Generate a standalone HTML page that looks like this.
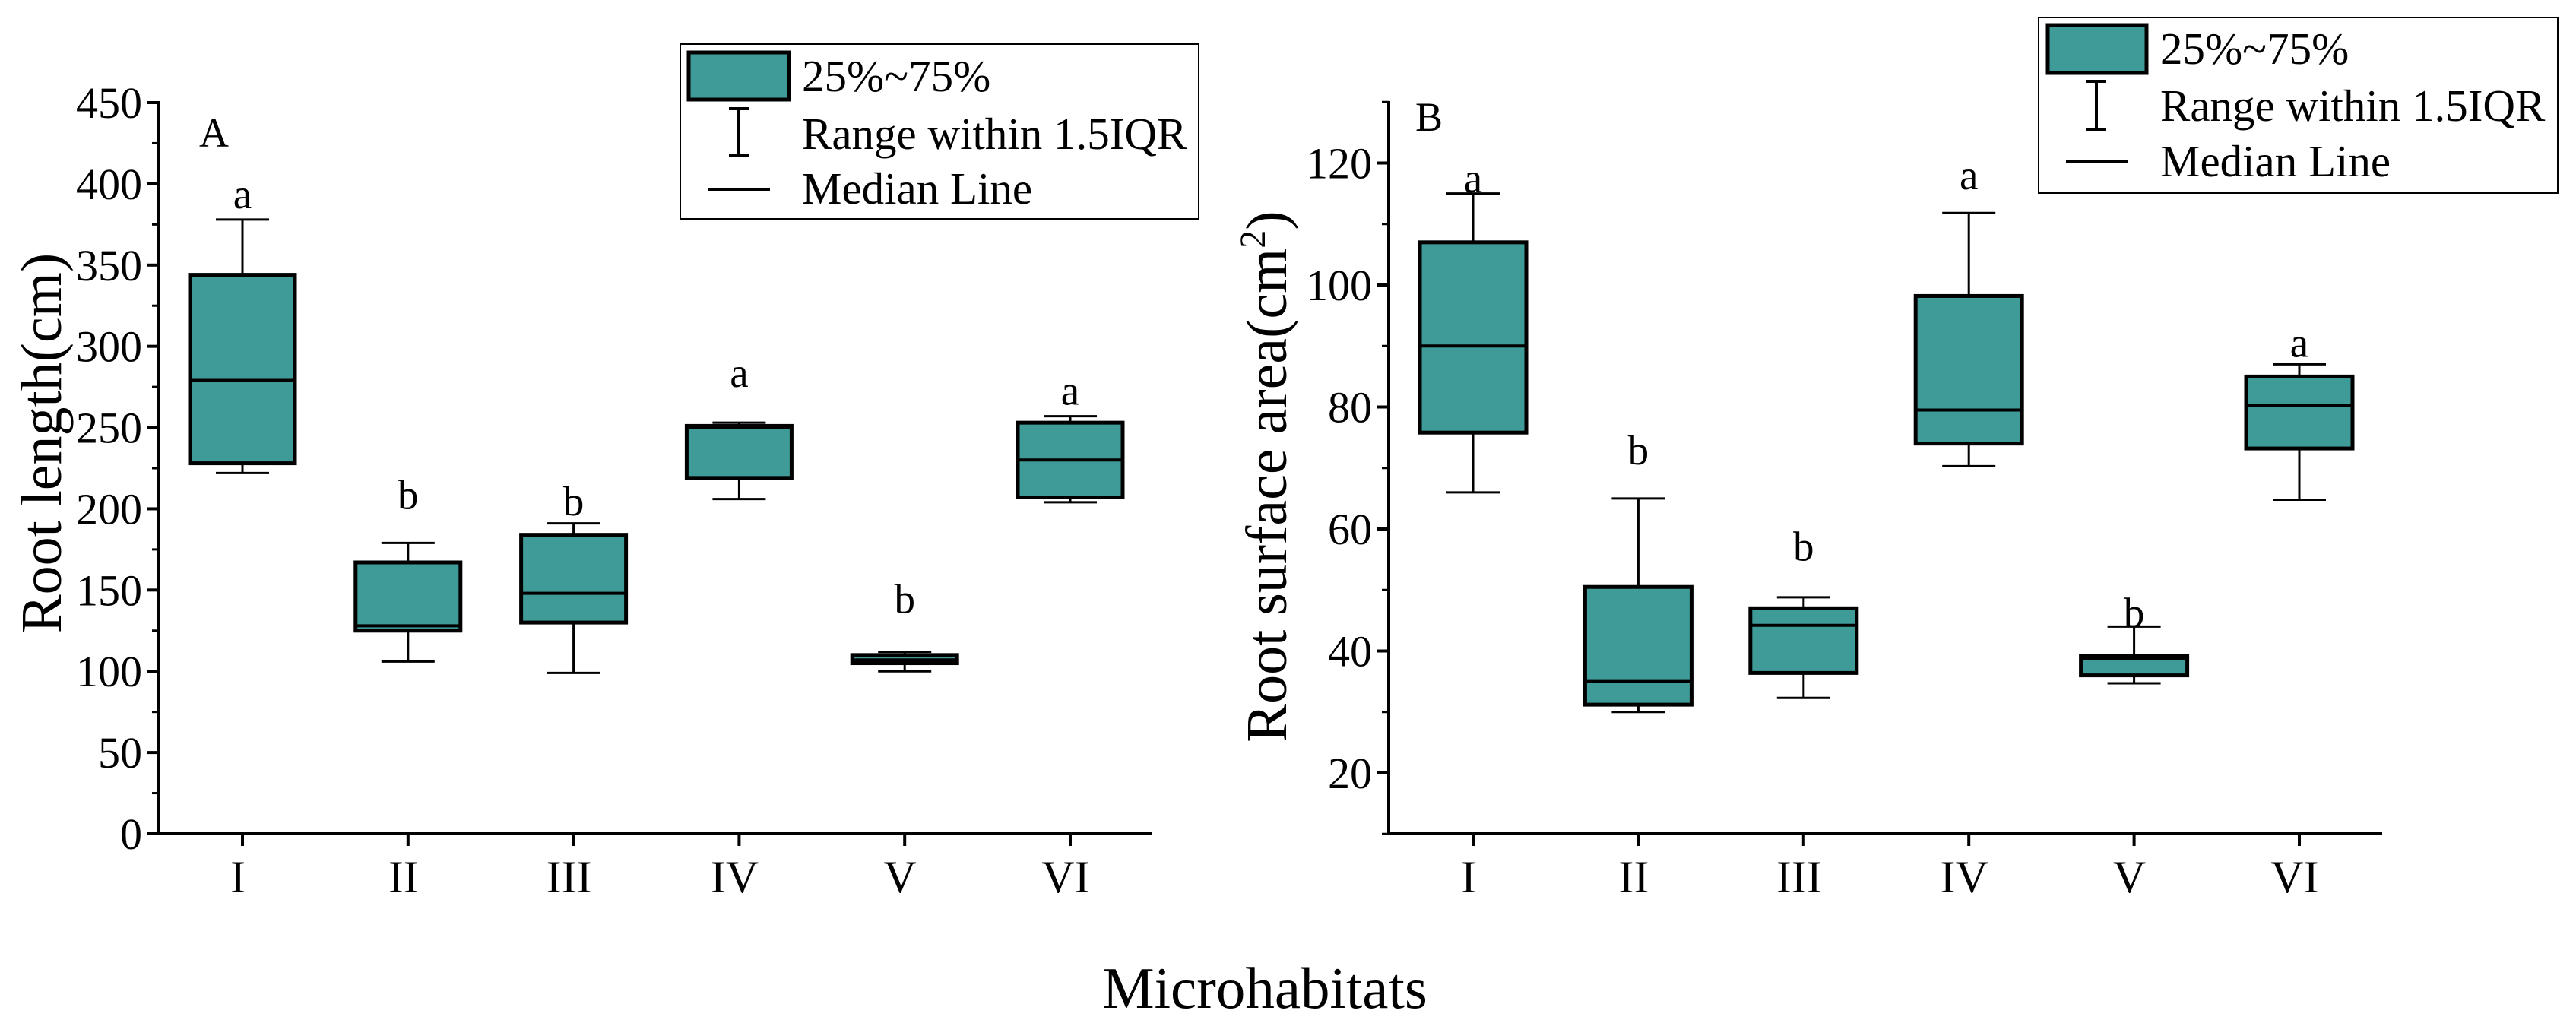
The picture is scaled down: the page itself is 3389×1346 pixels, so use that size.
<!DOCTYPE html>
<html><head><meta charset="utf-8"><style>
html,body{margin:0;padding:0;background:#fff}
svg{display:block}
text{font-family:"Liberation Serif",serif;fill:#000}
</style></head><body>
<svg id="chart" width="3389" height="1346" viewBox="0 0 3389 1346" xmlns="http://www.w3.org/2000/svg">
<text x="1664" y="1326" font-size="77" text-anchor="middle">Microhabitats</text>
</svg>
<script>
const categories = ["I","II","III","IV","V","VI"];
// Panel A: root length (cm)
const lenWhiskerLow  = [222,106,99,206,100,204];
const lenQ1          = [228,125,130,219,105,207];
const lenMedian      = [279,128,148,250,107,230];
const lenQ3          = [344,167,184,251,110,253];
const lenWhiskerHigh = [378,179,191,253,112,257];
const lenLetters     = ["a","b","b","a","b","a"];
const lenLetterPos   = [385,200,196,275,136,264];
const lenTicks       = [0,50,100,150,200,250,300,350,400,450];
// Panel B: root surface area (cm2)
const areaWhiskerLow  = [66,30,32.3,70.3,34.7,64.8];
const areaQ1          = [75.8,31.2,36.4,74,36,73.2];
const areaMedian      = [90,35,44.2,79.5,38.8,80.3];
const areaQ3          = [107,50.5,47,98.2,39.2,85];
const areaWhiskerHigh = [115,65,48.8,111.8,44,87];
const areaLetters     = ["a","b","b","a","b","a"];
const areaLetterPos   = [115.2,70.6,54.8,115.7,44,88.2];
const areaTicks       = [20,40,60,80,100,120];

const NS="http://www.w3.org/2000/svg";
const svg=document.getElementById('chart');
function mk(tag,attrs,parent){const e=document.createElementNS(NS,tag);for(const k in attrs)e.setAttribute(k,attrs[k]);(parent||svg).appendChild(e);return e;}
const FILL="#3f9b98";

function panel(cfg){
  const g=mk('g',{});
  
  
  const y=v=>cfg.y0+(v-cfg.vmin)*(cfg.y1-cfg.y0)/(cfg.vmax-cfg.vmin);
  const x=i=>cfg.xFirst+i*cfg.xStep;
  const ya=mk('line',{x1:cfg.axL,x2:cfg.axL,y1:cfg.axTop,y2:cfg.axBottom+2,stroke:'#000','stroke-width':4},g);
  
  
  const xa=mk('line',{x1:cfg.axL-2,x2:cfg.axR,y1:cfg.axBottom,y2:cfg.axBottom,stroke:'#000','stroke-width':4},g);
  
  
  cfg.ticks.forEach((t,i)=>{
    const yy=y(t);
    mk('line',{x1:cfg.axL-16,x2:cfg.axL,y1:yy,y2:yy,stroke:'#000','stroke-width':4},g);
    if(i<cfg.ticks.length-1||cfg.minorTop){
      const ym=y(t+cfg.tickStep/2);
      if(ym>=cfg.axTop-1) mk('line',{x1:cfg.axL-9,x2:cfg.axL,y1:ym,y2:ym,stroke:'#000','stroke-width':3},g);
    }
    const tx=mk('text',{x:cfg.axL-22,y:yy+20,'font-size':58,'text-anchor':'end'},g);
    tx.textContent=t;
    
    
  });
  if(cfg.minorBottom){const ym=y(cfg.ticks[0]-cfg.tickStep/2); mk('line',{x1:cfg.axL-9,x2:cfg.axL,y1:ym,y2:ym,stroke:'#000','stroke-width':3},g);}
  categories.forEach((c,i)=>{
    const xx=x(i);
    mk('line',{x1:xx,x2:xx,y1:cfg.axBottom,y2:cfg.axBottom+16,stroke:'#000','stroke-width':4},g);
    const t=mk('text',{x:xx-6,y:1174,'font-size':60,'text-anchor':'middle'},g);
    t.textContent=c;
    
    
    const hw=cfg.boxW/2, cw=cfg.capW/2;
    const bg=mk('g',{},g);
    
    
    mk('line',{x1:xx,x2:xx,y1:y(cfg.lo[i]),y2:y(cfg.q1[i]),stroke:'#000','stroke-width':3},bg);
    mk('line',{x1:xx,x2:xx,y1:y(cfg.hi[i]),y2:y(cfg.q3[i]),stroke:'#000','stroke-width':3},bg);
    mk('line',{x1:xx-cw,x2:xx+cw,y1:y(cfg.lo[i]),y2:y(cfg.lo[i]),stroke:'#000','stroke-width':3},bg);
    mk('line',{x1:xx-cw,x2:xx+cw,y1:y(cfg.hi[i]),y2:y(cfg.hi[i]),stroke:'#000','stroke-width':3},bg);
    mk('rect',{x:xx-hw,y:y(cfg.q3[i]),width:cfg.boxW,height:Math.max(1,y(cfg.q1[i])-y(cfg.q3[i])),fill:FILL,stroke:'#000','stroke-width':5},bg);
    mk('line',{x1:xx-hw,x2:xx+hw,y1:y(cfg.med[i]),y2:y(cfg.med[i]),stroke:'#000','stroke-width':4},bg);
    const lt=mk('text',{x:xx,y:y(cfg.letPos[i]),'font-size':55,'text-anchor':'middle'},g);
    lt.textContent=cfg.letters[i];
    
    
  });
  const pl=mk('text',{x:cfg.plX,y:cfg.plY,'font-size':54},g);
  pl.textContent=cfg.plText;
  
  
  const yt=mk('text',{x:cfg.ytX,y:cfg.ytY,'font-size':76,'text-anchor':'middle',transform:`rotate(-90 ${cfg.ytX} ${cfg.ytY})`},g);
  yt.innerHTML=cfg.ytText;
  
  
  const L=cfg.leg;
  const lg=mk('g',{},g);
  
  
  mk('rect',{x:L.x,y:L.y,width:L.w,height:L.h,fill:'#fff',stroke:'#000','stroke-width':2},lg);
  mk('rect',{x:L.sx,y:L.sy,width:L.sw,height:L.sh,fill:FILL,stroke:'#000','stroke-width':5},lg);
  mk('line',{x1:L.wx,x2:L.wx,y1:L.wy1,y2:L.wy2,stroke:'#000','stroke-width':4},lg);
  mk('line',{x1:L.wx-13,x2:L.wx+13,y1:L.wy1,y2:L.wy1,stroke:'#000','stroke-width':4},lg);
  mk('line',{x1:L.wx-13,x2:L.wx+13,y1:L.wy2,y2:L.wy2,stroke:'#000','stroke-width':4},lg);
  mk('line',{x1:L.mx1,x2:L.mx2,y1:L.my,y2:L.my,stroke:'#000','stroke-width':4},lg);
  [["25%~75%",L.b1],["Range within 1.5IQR",L.b2],["Median Line",L.b3]].forEach(([s,b])=>{
    const t=mk('text',{x:L.tx,y:b,'font-size':59},lg);
    t.textContent=s;
    
    
  });
}

panel({name:'panel-a-root-length',vmin:0,vmax:450,y0:1097,y1:135,axL:209,axR:1516,axTop:133,axBottom:1097,
  ticks:lenTicks,tickStep:50,minorTop:false,minorBottom:false,
  xFirst:319,xStep:217.8,boxW:138,capW:70,
  lo:lenWhiskerLow,q1:lenQ1,med:lenMedian,q3:lenQ3,hi:lenWhiskerHigh,letters:lenLetters,letPos:lenLetterPos,
  plX:262,plY:193,plText:'A',ytX:80,ytY:583,ytText:'Root length(cm)',
  leg:{x:895,y:58,w:682,h:230,sx:906,sy:69,sw:132,sh:62,wx:972,wy1:143,wy2:204,mx1:932,mx2:1013,my:249,tx:1055,b1:120,b2:196,b3:268}});

panel({name:'panel-b-root-surface-area',vmin:20,vmax:120,y0:1017,y1:214.5,axL:1827,axR:3134,axTop:133,axBottom:1097,
  ticks:areaTicks,tickStep:20,minorTop:true,minorBottom:true,
  xFirst:1938,xStep:217.4,boxW:140,capW:70,
  lo:areaWhiskerLow,q1:areaQ1,med:areaMedian,q3:areaQ3,hi:areaWhiskerHigh,letters:areaLetters,letPos:areaLetterPos,
  plX:1862,plY:172,plText:'B',ytX:1692,ytY:627,ytText:'Root surface area(cm<tspan dy="-28" font-size="48">2</tspan><tspan dy="28">)</tspan>',
  leg:{x:2682,y:23,w:683,h:231,sx:2694,sy:33,sw:130,sh:63,wx:2758,wy1:107,wy2:170,mx1:2718,mx2:2800,my:213,tx:2842,b1:84,b2:159,b3:232}});
</script>
</body></html>
